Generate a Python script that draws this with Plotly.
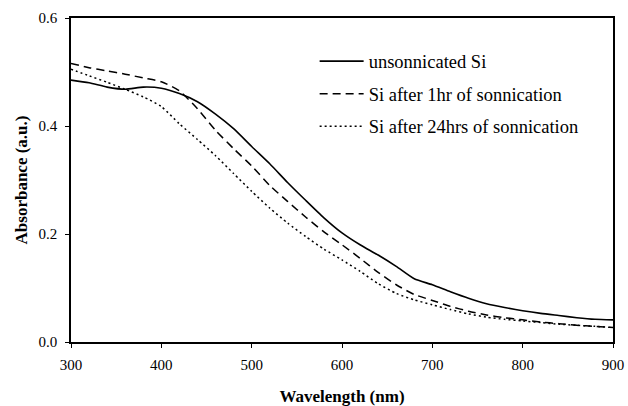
import plotly.graph_objects as go

# UV-Vis absorbance spectra of Si before/after sonication
wavelength = [300, 320, 340, 360, 380, 400, 420, 440, 460, 480, 500, 520, 540, 560, 580,
              600, 620, 640, 660, 680, 700, 720, 740, 760, 780, 800, 820, 840, 860, 880, 900]

unsonnicated = [0.485, 0.480, 0.472, 0.468, 0.472, 0.470, 0.460, 0.445, 0.422, 0.395, 0.362,
                0.330, 0.295, 0.262, 0.230, 0.202, 0.180, 0.161, 0.140, 0.117, 0.106, 0.093,
                0.081, 0.071, 0.064, 0.058, 0.053, 0.049, 0.045, 0.042, 0.041]

after_1hr = [0.516, 0.508, 0.502, 0.496, 0.489, 0.482, 0.465, 0.432, 0.392, 0.358, 0.326,
             0.290, 0.260, 0.231, 0.204, 0.180, 0.155, 0.129, 0.106, 0.088, 0.077, 0.066,
             0.057, 0.050, 0.045, 0.041, 0.037, 0.034, 0.031, 0.029, 0.027]

after_24hrs = [0.505, 0.493, 0.481, 0.468, 0.454, 0.436, 0.404, 0.375, 0.345, 0.312, 0.279,
               0.248, 0.220, 0.195, 0.172, 0.152, 0.131, 0.108, 0.090, 0.078, 0.069, 0.060,
               0.052, 0.046, 0.042, 0.039, 0.036, 0.033, 0.031, 0.029, 0.027]

series_names = ["unsonnicated Si", "Si after 1hr of sonnication", "Si after 24hrs of sonnication"]
x_ticks = [300, 400, 500, 600, 700, 800, 900]
y_ticks = [0.0, 0.2, 0.4, 0.6]

FONT = "Times New Roman, Liberation Serif, DejaVu Serif, serif"

fig = go.Figure()
styles = [
    dict(dash="solid", width=1.6),
    dict(dash="8px,5px", width=1.5),
    dict(dash="2px,3px", width=1.5),
]
for i, (name, ys, st) in enumerate(zip(series_names, [unsonnicated, after_1hr, after_24hrs], styles)):
    fig.add_trace(go.Scatter(
        x=wavelength, y=ys, name=name, mode="lines", legendgroup=f"g{i}",
        line=dict(color="black", shape="spline", smoothing=0.6, **st),
    ))

axis_common = dict(
    showgrid=False, zeroline=False, showline=True, linecolor="black", linewidth=1.5,
    mirror=True, ticks="outside", ticklen=4, tickcolor="black", tickwidth=1,
    automargin=False,
    tickfont=dict(family=FONT, size=15, color="black"),
)

fig.update_xaxes(
    range=[300, 900], tickvals=x_ticks, ticklabelstandoff=4,
    title=dict(text="Wavelength (nm)", font=dict(family=FONT, size=17, color="black", weight="bold"),
               standoff=19),
    **axis_common,
)
fig.update_yaxes(
    range=[0, 0.6], tickvals=y_ticks, tickformat=".1f", ticklabelstandoff=5,
    title=dict(text="Absorbance (a.u.)", font=dict(family=FONT, size=17, color="black", weight="bold"),
               standoff=7),
    **axis_common,
)

fig.update_layout(
    template="none",
    width=628, height=406,
    margin=dict(l=71, r=15, t=18, b=64),
    paper_bgcolor="white", plot_bgcolor="white",
    font=dict(family=FONT, color="black"),
    legend=dict(
        x=0.4495, y=0.924, xanchor="left", yanchor="top",
        bgcolor="rgba(0,0,0,0)", borderwidth=0,
        font=dict(family=FONT, size=18.5, color="black"),
        itemwidth=44, tracegroupgap=5.5,
    ),
)

fig.write_html("out.html")
